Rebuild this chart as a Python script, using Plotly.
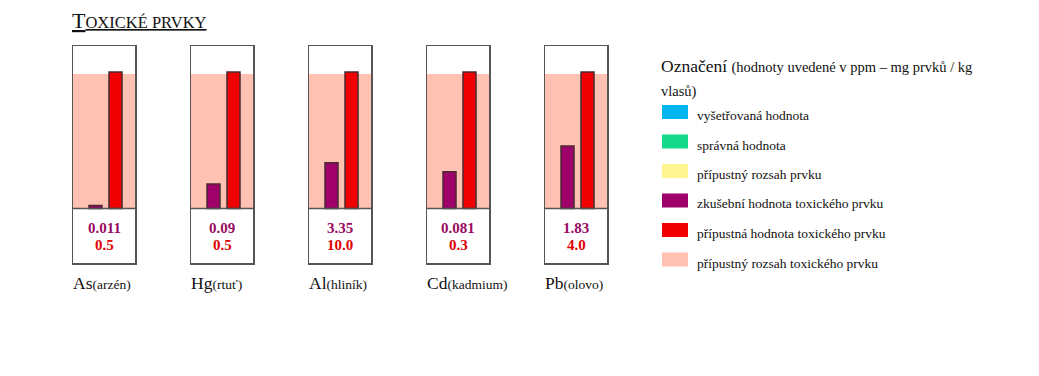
import plotly.graph_objects as go

W, H = 1039, 376

symbols = ["As", "Hg", "Al", "Cd", "Pb"]
names = ["(arzén)", "(rtuť)", "(hliník)", "(kadmium)", "(olovo)"]
measured = [0.011, 0.09, 3.35, 0.081, 1.83]
limits = [0.5, 0.5, 10.0, 0.3, 4.0]
measured_txt = ["0.011", "0.09", "3.35", "0.081", "1.83"]
limit_txt = ["0.5", "0.5", "10.0", "0.3", "4.0"]

legend_labels = [
    "vyšetřovaná hodnota",
    "správná hodnota",
    "přípustný rozsah prvku",
    "zkušební hodnota toxického prvku",
    "přípustná hodnota toxického prvku",
    "přípustný rozsah toxického prvku",
]
legend_colors = ["#00B4EE", "#14D88A", "#FFF590", "#A0006A", "#F00000", "#FFC2B2"]

PURPLE = "#A0006A"
RED = "#F00000"
PINK = "#FFC2B2"
OUTLINE = "#4A2A30"
FONT = "Liberation Serif"

fig = go.Figure()

px0, pstep, pw = 73, 118, 62
ytop, ybot = 46, 263
y0px, unit = 208.5, 136.5
yr_top = (y0px - ytop) / unit
yr_bot = -(ybot - y0px) / unit

for i in range(5):
    ax = "" if i == 0 else str(i + 1)
    left = px0 + i * pstep
    fig.add_trace(go.Bar(
        x=[0, 1],
        y=[measured[i] / limits[i], limits[i] / limits[i]],
        width=0.65,
        marker=dict(color=[PURPLE, RED], line=dict(color=OUTLINE, width=1.5)),
        xaxis="x" + ax, yaxis="y" + ax,
        showlegend=False, hoverinfo="skip",
    ))
    fig.update_layout(**{
        "xaxis" + ax: dict(
            domain=[left / W, (left + pw) / W], range=[-1.125, 1.975],
            showticklabels=False, showgrid=False, zeroline=False, ticks="",
            showline=True, mirror=True, linecolor="#555555", linewidth=1.5,
            anchor="y" + ax, fixedrange=True,
        ),
        "yaxis" + ax: dict(
            domain=[1 - ybot / H, 1 - ytop / H], range=[yr_bot, yr_top],
            showticklabels=False, showgrid=False, zeroline=False, ticks="",
            showline=True, mirror=True, linecolor="#555555", linewidth=1.5,
            anchor="x" + ax, fixedrange=True,
        ),
    })
    xr = "x" + ax
    yr = "y" + ax
    fig.add_shape(type="rect", xref=xr + " domain", yref=yr, x0=0, x1=1,
                  y0=0, y1=0.985, fillcolor=PINK, line=dict(width=0), layer="below")
    fig.add_shape(type="line", xref=xr + " domain", yref=yr, x0=0, x1=1,
                  y0=0, y1=0, line=dict(color="#555555", width=1.5))
    fig.add_annotation(xref=xr + " domain", yref=yr, x=0.5, y=-0.143,
                       text="<b>%s</b>" % measured_txt[i], showarrow=False,
                       font=dict(family=FONT, size=15, color="#9A0A62"))
    fig.add_annotation(xref=xr + " domain", yref=yr, x=0.5, y=-0.268,
                       text="<b>%s</b>" % limit_txt[i], showarrow=False,
                       font=dict(family=FONT, size=15, color="#E00000"))
    fig.add_annotation(xref="paper", yref="paper", x=(left - 2) / W, y=1 - 283 / H,
                       xanchor="left", yanchor="middle",
                       text="%s<span style='font-size:13.5px'>%s</span>" % (symbols[i], names[i]),
                       showarrow=False, font=dict(family=FONT, size=17.5, color="#111111"))

# title
fig.add_annotation(xref="paper", yref="paper", x=70 / W, y=1 - 21 / H,
                   xanchor="left", yanchor="middle",
                   text="<u>T<span style='font-size:16.5px'>OXICKÉ PRVKY</span></u>",
                   showarrow=False, font=dict(family=FONT, size=22, color="#111111"))

# legend
fig.add_annotation(xref="paper", yref="paper", x=659 / W, y=1 - 66 / H,
                   xanchor="left", yanchor="middle",
                   text="Označení <span style='font-size:14.5px'>(hodnoty uvedené v ppm – mg prvků / kg</span>",
                   showarrow=False, font=dict(family=FONT, size=17.5, color="#111111"))
fig.add_annotation(xref="paper", yref="paper", x=659 / W, y=1 - 92 / H,
                   xanchor="left", yanchor="middle", text="vlasů)",
                   showarrow=False, font=dict(family=FONT, size=14.5, color="#111111"))
for k, (lab, col) in enumerate(zip(legend_labels, legend_colors)):
    top = 105 + k * 29.5
    fig.add_shape(type="rect", xref="paper", yref="paper",
                  x0=662 / W, x1=688 / W, y0=1 - (top + 14) / H, y1=1 - top / H,
                  fillcolor=col, line=dict(width=0))
    fig.add_annotation(xref="paper", yref="paper", x=695 / W, y=1 - (top + 10.5) / H,
                       xanchor="left", yanchor="middle", text=lab, showarrow=False,
                       font=dict(family=FONT, size=13.5, color="#111111"))

fig.update_layout(
    width=W, height=H, margin=dict(l=0, r=0, t=0, b=0),
    paper_bgcolor="white", plot_bgcolor="white", bargap=0,
)

fig.write_html("out.html", post_script="document.body.style.margin='0';",
               config={"displayModeBar": False, "staticPlot": True})
